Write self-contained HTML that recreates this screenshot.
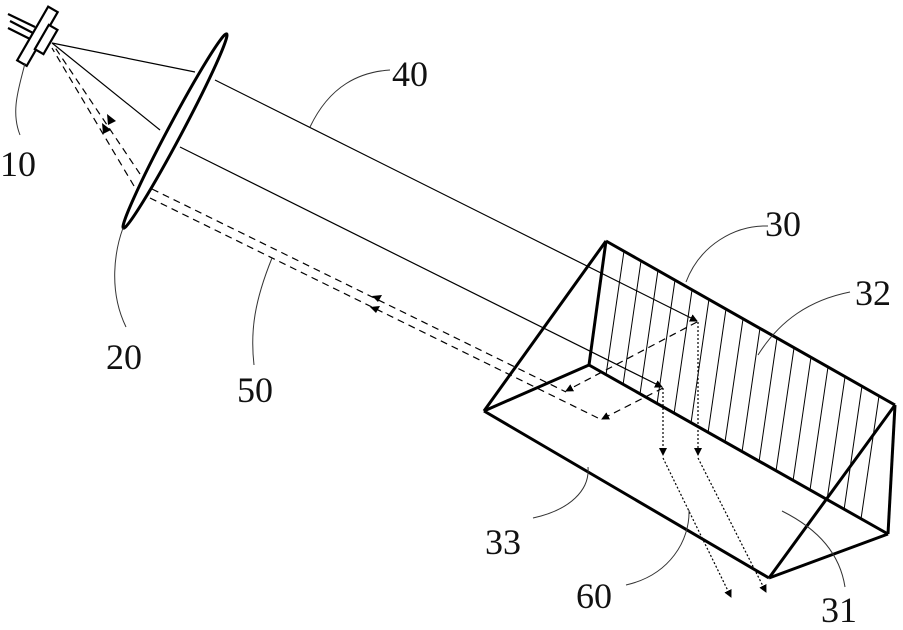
<!DOCTYPE html>
<html><head><meta charset="utf-8"><style>
html,body{margin:0;padding:0;background:#fff}
svg{display:block}
text{font-family:"Liberation Serif",serif;font-size:36px;fill:#111}
</style></head><body>
<svg width="903" height="630" viewBox="0 0 903 630" xmlns="http://www.w3.org/2000/svg">
<defs>
<marker id="a" markerWidth="8" markerHeight="8" refX="7" refY="4" orient="auto" markerUnits="userSpaceOnUse"><path d="M0,0 L8,4 L0,8 Z" fill="#000"/></marker>
</defs>
<g stroke="#000" stroke-width="2.2" fill="#fff">
<line x1="8" y1="14" x2="35" y2="27"/><line x1="10" y1="21" x2="33" y2="33"/><line x1="8" y1="28" x2="30" y2="39"/>
<rect x="-5" y="-31" width="11" height="62" transform="translate(37,36) rotate(30)"/>
<rect x="-6" y="-14" width="10" height="28" transform="translate(47,40) rotate(30)"/>
</g>
<g stroke="#000" stroke-width="1.2" fill="none">
<line x1="52" y1="43" x2="195" y2="72"/>
<line x1="52" y1="43" x2="160" y2="130"/>
<line x1="215" y1="80" x2="697" y2="321" marker-end="url(#a)"/>
<line x1="180" y1="147" x2="662" y2="387" marker-end="url(#a)"/>
</g>
<g stroke="#000" stroke-width="1.2" fill="none" stroke-dasharray="7,5">
<line x1="140" y1="174" x2="54" y2="46"/>
<line x1="134" y1="186" x2="52" y2="48"/>
<line x1="152" y1="189" x2="566" y2="392"/>
<line x1="150" y1="198" x2="602" y2="420"/>
<line x1="697" y1="322" x2="566" y2="391" marker-end="url(#a)"/>
<line x1="663" y1="388" x2="602" y2="419" marker-end="url(#a)"/>
</g>
<g fill="#000">
<path d="M108,125 l-1,-11 l9,7z"/><path d="M103,134 l-1,-11 l9,7z"/>
<path d="M372,296 l10,-1 l-4,7z"/><path d="M370,307 l10,-1 l-4,7z"/>
</g>
<g stroke="#000" stroke-width="1.2" fill="none" stroke-dasharray="2,2">
<line x1="698" y1="322" x2="698" y2="455" marker-end="url(#a)"/>
<line x1="663" y1="388" x2="663" y2="455" marker-end="url(#a)"/>
<line x1="663" y1="458" x2="731" y2="597" marker-end="url(#a)"/>
<line x1="698" y1="458" x2="766" y2="592" marker-end="url(#a)"/>
</g>
<ellipse cx="175" cy="131" rx="110" ry="7" transform="rotate(-62 175 131)" fill="#fff" stroke="#000" stroke-width="3"/>
<g stroke="#000" stroke-width="1">
<line x1="624" y1="251" x2="606" y2="375"/>
<line x1="641" y1="261" x2="623" y2="385"/>
<line x1="658" y1="270" x2="640" y2="394"/>
<line x1="675" y1="280" x2="657" y2="404"/>
<line x1="692" y1="290" x2="674" y2="414"/>
<line x1="709" y1="299" x2="691" y2="423"/>
<line x1="726" y1="309" x2="708" y2="433"/>
<line x1="743" y1="319" x2="725" y2="442"/>
<line x1="760" y1="328" x2="742" y2="452"/>
<line x1="777" y1="338" x2="759" y2="462"/>
<line x1="794" y1="348" x2="776" y2="471"/>
<line x1="811" y1="357" x2="793" y2="481"/>
<line x1="828" y1="367" x2="810" y2="490"/>
<line x1="845" y1="377" x2="827" y2="500"/>
<line x1="862" y1="386" x2="844" y2="510"/>
<line x1="879" y1="396" x2="861" y2="519"/>
</g>
<g stroke="#000" stroke-width="3" fill="none" stroke-linejoin="round">
<line x1="606" y1="241" x2="895" y2="405"/>
<line x1="606" y1="241" x2="589" y2="365"/>
<line x1="606" y1="241" x2="484" y2="411"/>
<line x1="484" y1="411" x2="589" y2="365"/>
<line x1="589" y1="365" x2="888" y2="534"/>
<line x1="484" y1="411" x2="769" y2="578"/>
<line x1="769" y1="578" x2="888" y2="534"/>
<line x1="895" y1="405" x2="888" y2="534"/>
<line x1="769" y1="578" x2="895" y2="405"/>
</g>
<g stroke="#333" stroke-width="1" fill="none">
<path d="M20,135 C10,110 20,85 25,63"/>
<path d="M310,127 C330,85 360,72 390,70"/>
<path d="M126,327 C108,290 115,250 123,228"/>
<path d="M686,282 C700,245 735,225 768,226"/>
<path d="M758,355 C780,320 810,300 850,292"/>
<path d="M254,365 C250,330 255,300 272,258"/>
<path d="M533,518 C570,510 590,490 588,467"/>
<path d="M626,585 C670,575 690,540 689,510"/>
<path d="M845,587 C840,555 820,530 782,511"/>
</g>
<text x="0" y="176">10</text>
<text x="392" y="86">40</text>
<text x="106" y="369">20</text>
<text x="765" y="236">30</text>
<text x="855" y="305">32</text>
<text x="237" y="402">50</text>
<text x="485" y="554">33</text>
<text x="576" y="608">60</text>
<text x="821" y="622">31</text>
</svg>
</body></html>
